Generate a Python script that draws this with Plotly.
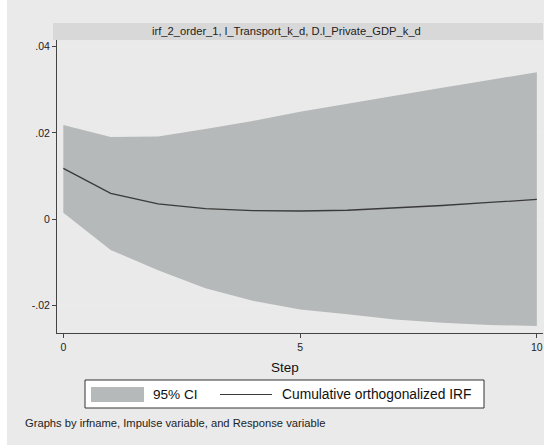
import plotly.graph_objects as go

steps = [0, 1, 2, 3, 4, 5, 6, 7, 8, 9, 10]
irf = [0.0118, 0.0060, 0.00355, 0.00246, 0.0020, 0.00192, 0.0021, 0.0026, 0.0032, 0.0039, 0.0046]
ci_upper = [0.02185, 0.0191, 0.0192, 0.0209, 0.0228, 0.0249, 0.0268, 0.0287, 0.0305, 0.0323, 0.0341]
ci_lower = [0.0015, -0.0071, -0.0118, -0.0160, -0.0189, -0.0209, -0.0220, -0.0232, -0.0240, -0.0245, -0.0247]
y_ticks = [-0.02, 0, 0.02, 0.04]
y_tick_text = ["-.02", "0", ".02", ".04"]
x_ticks = [0, 5, 10]
panel_title = "irf_2_order_1, l_Transport_k_d, D.l_Private_GDP_k_d"
note = "Graphs by irfname, Impulse variable, and Response variable"

W, H = 547, 445
L, R, T, B = 57, 4, 40, 112
pw, ph = W - L - R, H - T - B

def px(x):
    return (x - L) / pw

def py(y):
    return (H - B - y) / ph

FILL = "#b5b9b9"
LINE = "#3a3a3a"
BG = "#eaeaea"
FONT = "Liberation Sans, Arial, sans-serif"

fig = go.Figure()
fig.add_trace(go.Scatter(x=steps + steps[::-1], y=ci_upper + ci_lower[::-1], fill="toself",
                         fillcolor=FILL, line=dict(width=0), mode="lines", hoverinfo="skip",
                         showlegend=False))
fig.add_trace(go.Scatter(x=steps, y=irf, mode="lines", line=dict(color=LINE, width=1.3),
                         showlegend=False))

shapes = []
# grey graph background
shapes.append(dict(type="rect", xref="paper", yref="paper", x0=px(7), x1=px(544), y0=py(H), y1=py(0),
                   fillcolor=BG, line=dict(width=0), layer="below"))
# strip
shapes.append(dict(type="rect", xref="paper", yref="paper", x0=px(53), x1=px(543), y0=py(40), y1=py(23),
                   fillcolor="#d8d8d8", line=dict(width=0), layer="below"))
# legend box
shapes.append(dict(type="rect", xref="paper", yref="paper", x0=px(85), x1=px(484), y0=py(408), y1=py(380),
                   fillcolor="white", line=dict(color="#333333", width=1)))
shapes.append(dict(type="rect", xref="paper", yref="paper", x0=px(91), x1=px(144), y0=py(402), y1=py(387),
                   fillcolor=FILL, line=dict(width=0)))
shapes.append(dict(type="line", xref="paper", yref="paper", x0=px(220), x1=px(272), y0=py(394.5), y1=py(394.5),
                   line=dict(color=LINE, width=1.2)))

annotations = [
    dict(text=panel_title, xref="paper", yref="paper", x=px(286.5), y=py(31.5), showarrow=False,
         xanchor="center", yanchor="middle", font=dict(size=11.2, color="#222222", family=FONT)),
    dict(text="95% CI", xref="paper", yref="paper", x=px(151), y=py(394.5), showarrow=False,
         xanchor="left", yanchor="middle", font=dict(size=13.6, color="#111111", family=FONT)),
    dict(text="Cumulative orthogonalized IRF", xref="paper", yref="paper", x=px(280), y=py(394.5),
         showarrow=False, xanchor="left", yanchor="middle", font=dict(size=13.8, color="#111111", family=FONT)),
    dict(text=note, xref="paper", yref="paper", x=px(23), y=py(423), showarrow=False,
         xanchor="left", yanchor="middle", font=dict(size=11.2, color="#222222", family=FONT)),
    dict(text="Step", xref="paper", yref="paper", x=px(284.5), y=py(367), showarrow=False,
         xanchor="center", yanchor="middle", font=dict(size=13.5, color="#111111", family=FONT)),
]

fig.update_layout(
    width=W, height=H, margin=dict(l=L, r=R, t=T, b=B, pad=0),
    paper_bgcolor="white", plot_bgcolor="white",
    shapes=shapes, annotations=annotations, showlegend=False,
    font=dict(family=FONT, color="#222222"),
    xaxis=dict(range=[-0.134, 10.13], tickvals=x_ticks, ticks="outside", ticklen=4, tickcolor="#444444",
               showgrid=False, zeroline=False, showline=True, linecolor="#444444", linewidth=1,
               tickfont=dict(size=10.5, color="#222222"), fixedrange=True),
    yaxis=dict(range=[-0.02635, 0.04155], tickvals=y_ticks, ticktext=y_tick_text, ticks="outside",
               ticklen=4, tickcolor="#444444", showgrid=True, gridcolor="#ececec", gridwidth=1,
               zeroline=False, showline=True, linecolor="#444444", linewidth=1,
               tickfont=dict(size=10.5, color="#222222"), fixedrange=True),
)

fig.write_html("out.html", config={"displayModeBar": False},
               post_script="document.body.style.margin='0px';document.body.style.padding='0px';")
